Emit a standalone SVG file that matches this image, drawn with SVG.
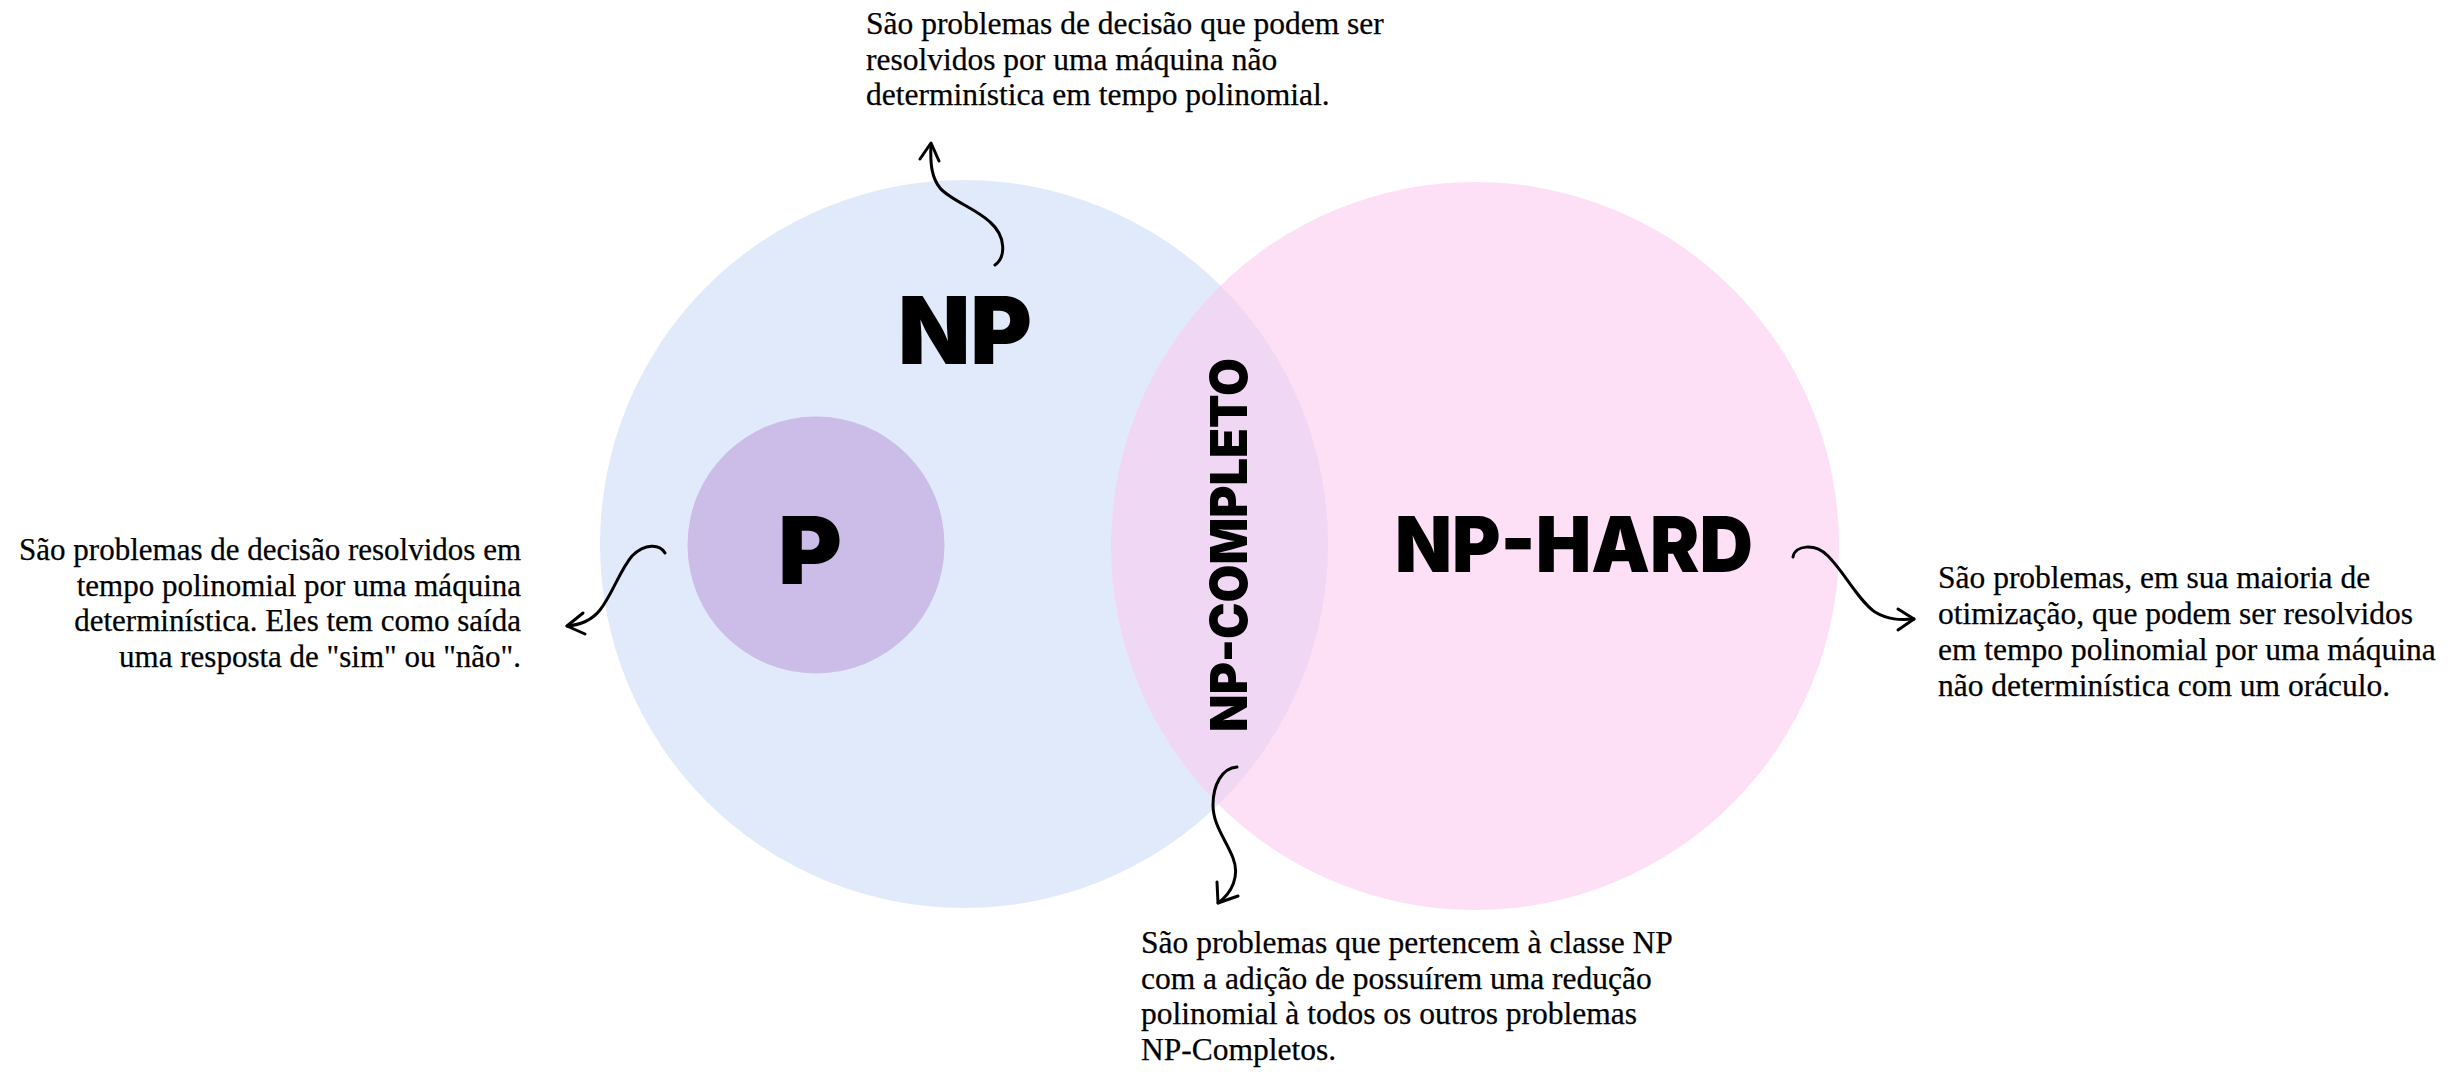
<svg xmlns="http://www.w3.org/2000/svg" width="2460" height="1072" viewBox="0 0 2460 1072">
  <style>
    .label { font-family: Inter, "DejaVu Sans", sans-serif; font-weight: 900; fill: #000; }
    .desc { font-family: "Liberation Serif", "DejaVu Serif", serif; font-size: 31.5px; fill: #000; stroke: #000; stroke-width: 0.25px; }
    .conn { fill: none; stroke: #000; stroke-width: 3; stroke-linecap: round; stroke-linejoin: round; }
  </style>
  <defs>
    <clipPath id="blueClip">
      <circle cx="964" cy="544" r="364"/>
    </clipPath>
  </defs>
  <rect width="2460" height="1072" fill="#ffffff"/>

  <g id="np">
    <circle cx="964" cy="544" r="364" fill="#E0EAFB"/>
  </g>
  <g id="np-hard">
    <circle cx="1475" cy="546" r="364" fill="#FDDFF6"/>
  </g>
  <g id="np-completo">
    <circle cx="1475" cy="546" r="364" fill="#F0D8F4" clip-path="url(#blueClip)"/>
    <text class="label" font-size="51" textLength="374" lengthAdjust="spacingAndGlyphs" transform="translate(1247 732) rotate(-90)" x="0" y="0">NP-COMPLETO</text>
  </g>
  <g id="p">
    <circle cx="816" cy="545" r="128.5" fill="#CBBCE8"/>
    <text class="label" x="778" y="584" font-size="93" textLength="64" lengthAdjust="spacingAndGlyphs">P</text>
  </g>
  <g id="np-label">
    <text class="label" x="898" y="364" font-size="93" textLength="134" lengthAdjust="spacingAndGlyphs">NP</text>
  </g>
  <g id="np-hard-label">
    <text class="label" x="1395" y="572" font-size="77" textLength="358" lengthAdjust="spacingAndGlyphs">NP-HARD</text>
  </g>

  <g id="desc-np">
    <text class="desc" x="866" y="34">São problemas de decisão que podem ser</text>
    <text class="desc" x="866" y="69.5">resolvidos por uma máquina não</text>
    <text class="desc" x="866" y="105">determinística em tempo polinomial.</text>
  </g>
  <g id="desc-p" text-anchor="end">
    <text class="desc" x="521" y="560" style="font-size:31px">São problemas de decisão resolvidos em</text>
    <text class="desc" x="521" y="596" style="font-size:31px">tempo polinomial por uma máquina</text>
    <text class="desc" x="521" y="631" style="font-size:31px">determinística. Eles tem como saída</text>
    <text class="desc" x="521" y="667" style="font-size:31px">uma resposta de "sim" ou "não".</text>
  </g>
  <g id="desc-np-hard">
    <text class="desc" x="1938" y="588">São problemas, em sua maioria de</text>
    <text class="desc" x="1938" y="624">otimização, que podem ser resolvidos</text>
    <text class="desc" x="1938" y="660">em tempo polinomial por uma máquina</text>
    <text class="desc" x="1938" y="696">não determinística com um oráculo.</text>
  </g>
  <g id="desc-np-completo">
    <text class="desc" x="1141" y="953">São problemas que pertencem à classe NP</text>
    <text class="desc" x="1141" y="989">com a adição de possuírem uma redução</text>
    <text class="desc" x="1141" y="1024">polinomial à todos os outros problemas</text>
    <text class="desc" x="1141" y="1060">NP-Completos.</text>
  </g>

  <g id="connectors">
    <path class="conn" d="M995,265 C1006,257 1006,236 990,222 C975,208 950,200 940,188 C932,178 930,165 931,144"/>
    <path class="conn" d="M920,159 L931,143 L939,161"/>
    <path class="conn" d="M665,553 C660,544 645,543 632,556 C620,570 612,595 600,610 C592,620 580,625 567,626"/>
    <path class="conn" d="M583,613 L567,626 L585,634"/>
    <path class="conn" d="M1793,557 C1795,545 1815,543 1828,556 C1845,573 1858,600 1875,612 C1888,620 1900,620 1914,619"/>
    <path class="conn" d="M1898,609 L1914,619 L1898,630"/>
    <path class="conn" d="M1237,767 C1222,768 1213,785 1213,805 C1213,825 1226,840 1233,858 C1240,876 1232,893 1218,903"/>
    <path class="conn" d="M1217,882 L1218,903 L1238,896"/>
  </g>
</svg>
